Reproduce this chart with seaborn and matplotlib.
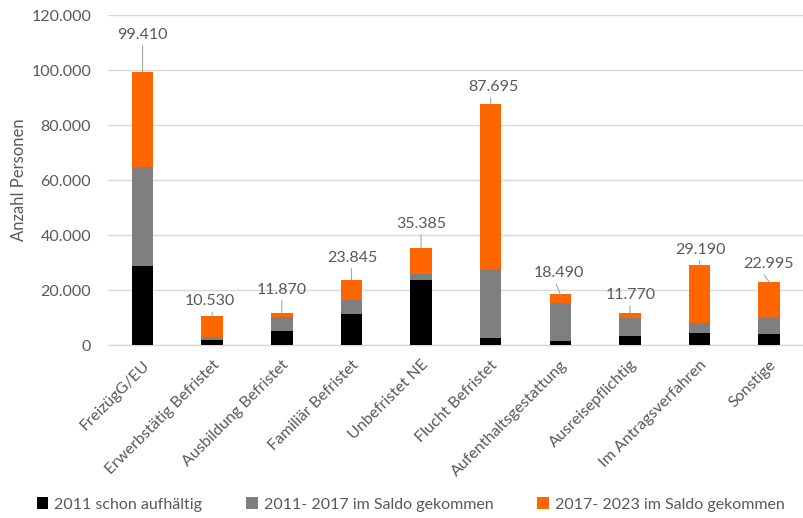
import matplotlib
matplotlib.use("Agg")
import matplotlib.pyplot as plt
from matplotlib.ticker import FuncFormatter, MultipleLocator
from matplotlib.patches import Patch
import numpy as np
import pandas as pd
import seaborn as sns

# Aufenthaltsstatus-Kategorien
categories = [
    "FreizügG/EU", "Erwerbstätig Befristet", "Ausbildung Befristet",
    "Familiär Befristet", "Unbefristet NE", "Flucht Befristet",
    "Aufenthaltsgestattung", "Ausreisepflichtig", "Im Antragsverfahren",
    "Sonstige",
]
# Anzahl Personen je Zeitraum
schon_2011 = [28900, 1900, 5200, 11500, 23700, 2800, 1700, 3400, 4600, 4000]
saldo_2011_2017 = [35800, 1200, 5000, 5100, 2300, 25100, 13600, 6500, 3500, 6400]
saldo_2017_2023 = [34710, 7430, 1670, 7245, 9385, 59795, 3190, 1870, 21090, 12595]
totals = [99410, 10530, 11870, 23845, 35385, 87695, 18490, 11770, 29190, 22995]

series_names = ["2011 schon aufhältig", "2011- 2017 im Saldo gekommen",
                "2017- 2023 im Saldo gekommen"]
colors = ["#000000", "#7f7f7f", "#ff6600"]

# Label offsets (pixels) of the total above each bar
label_dx = [0, -2, 0, 1, 0, 3, -1, 1, 1, -1]
label_dy = [37, 15, 23, 22, 24, 17, 21, 18, 15, 18]
# horizontal shift of the leader line start (pixels)
line_dx = [0, 0, 0, 0, 0, 0, -4, 0, 0, -5]

sns.set_theme(style="white")
plt.rcParams["font.family"] = ["Lato", "DejaVu Sans"]

text_color = "#595959"

df = pd.DataFrame({
    "Kategorie": categories,
    "s1": schon_2011,
    "s2": saldo_2011_2017,
    "s3": saldo_2017_2023,
})
df["c1"] = df["s1"]
df["c2"] = df["s1"] + df["s2"]
df["c3"] = df["s1"] + df["s2"] + df["s3"]

fig = plt.figure(figsize=(8.04, 5.18), dpi=100)
ax = fig.add_axes([0.134, 0.3334, 0.866, 0.6376])

# stacked bars: draw cumulative heights from the top layer down
for col, color in zip(["c3", "c2", "c1"], colors[::-1]):
    sns.barplot(data=df, x="Kategorie", y=col, color=color, width=0.31,
                saturation=1, ax=ax, linewidth=0, zorder=3)

ax.set_ylim(0, 120000)
ax.set_xlim(-0.5, len(categories) - 0.5)
ax.yaxis.set_major_locator(MultipleLocator(20000))
ax.yaxis.set_major_formatter(
    FuncFormatter(lambda v, p: f"{int(v):,}".replace(",", ".")))
ax.grid(axis="y", color="#d9d9d9", linewidth=1, zorder=0)
ax.set_axisbelow(True)
for s in ["top", "right", "left"]:
    ax.spines[s].set_visible(False)
ax.spines["bottom"].set_color("#d9d9d9")
ax.spines["bottom"].set_linewidth(1)

ax.tick_params(axis="both", length=0, labelsize=11.5, colors=text_color)
ax.tick_params(axis="y", pad=12)
ax.tick_params(axis="x", pad=9)
plt.setp(ax.get_xticklabels(), rotation=45, ha="right",
         rotation_mode="anchor")
ax.set_xlabel("")
ax.set_ylabel("Anzahl Personen", fontsize=12, color=text_color, labelpad=3)

# totals with leader lines
for i, tot in enumerate(totals):
    ax.annotate(f"{tot:,}".replace(",", "."), xy=(i, tot),
                xytext=(label_dx[i], label_dy[i]), textcoords="offset pixels",
                ha="center", va="center", fontsize=11.5, color=text_color,
                zorder=5)
    gap = label_dy[i] - 11
    if gap > 3:
        ax.annotate("", xy=(i, tot), xytext=(line_dx[i], gap),
                    textcoords="offset pixels",
                    arrowprops=dict(arrowstyle="-", color="#a6a6a6", lw=0.8,
                                    shrinkA=0, shrinkB=0))

handles = [Patch(facecolor=c, edgecolor="none") for c in colors]
fig.legend(handles, series_names, loc="center", bbox_to_anchor=(0.511, 0.026),
           ncol=3, frameon=False, fontsize=11.5, handlelength=0.7,
           handleheight=0.7, handletextpad=0.4, columnspacing=2.75,
           labelcolor=text_color)

fig.savefig("out.png", dpi=100)
